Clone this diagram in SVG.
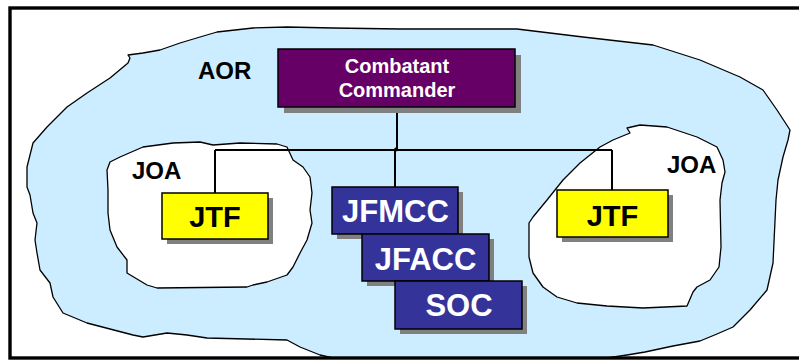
<svg xmlns="http://www.w3.org/2000/svg" width="799" height="360" viewBox="0 0 799 360">
<style>
.blob{stroke:#000;stroke-width:1.3;stroke-linejoin:round}
.box{stroke:#000;stroke-width:1.5}
.sh{fill:#808080}
.t{font-family:"Liberation Sans",Arial,sans-serif;font-weight:bold;text-anchor:middle}
.w{fill:#fff}
.k{fill:#000}
.ln{stroke:#000;stroke-width:2;fill:none}
</style>
<rect x="0" y="0" width="799" height="360" fill="#fff"/>
<g id="aor-region">
<path class="blob" fill="#CCECFF" d="M27,167 L33,143 L47,127 L67,107 L87,93 L110,78 L128,63 L130,58 L128,55 L143,53 L160,50 L180,43 L200,37 L217,32 L253,28 L287,27 L333,28 L400,29 L517,29 L583,37 L653,45 L700,60 L740,77 L763,90 L777,110 L790,130 L788,140 L783,157 L778,180 L776,200 L773,263 L767,290 L750,310 L733,327 L717,334 L700,341 L673,346 L645,352 L627,355 L607,358 L333,358 L320,355 L300,347 L287,340 L207,338 L187,335 L167,333 L143,337 L133,335 L87,323 L63,313 L53,297 L50,283 L40,270 L37,253 L35,240 L37,223 L33,213 L30,195 L27,187 Z"/>
</g>
<g id="joa-left">
<path class="blob" fill="#fff" d="M107,170 L110,162 L120,157 L143,147 L173,143 L200,142 L213,145 L240,143 L277,144 L287,147 L293,160 L303,167 L310,177 L312,193 L310,210 L312,223 L307,240 L300,253 L293,267 L287,275 L267,282 L253,285 L247,287 L157,288 L147,285 L127,273 L127,260 L117,247 L110,230 L108,213 L108,190 Z"/>
</g>
<g id="joa-right">
<path class="blob" fill="#fff" d="M563,180 L580,163 L600,147 L613,140 L630,133 L627,128 L640,125 L667,127 L697,137 L717,147 L723,160 L725,172 L722,183 L720,200 L721,247 L719,267 L710,280 L697,287 L693,292 L687,306 L643,308 L607,306 L577,303 L557,297 L543,287 L533,273 L529,257 L529,223 L533,217 L547,200 Z"/>
</g>
<g id="frame">
<rect x="10" y="8" width="800" height="350" fill="none" stroke="#000" stroke-width="3.4"/>
</g>
<g id="labels">
<text class="t k" x="198" y="79" font-size="24" text-anchor="start" style="text-anchor:start">AOR</text>
<text class="t k" x="132" y="179" font-size="24" style="text-anchor:start">JOA</text>
<text class="t k" x="667" y="173" font-size="24" style="text-anchor:start">JOA</text>
</g>
<g id="connectors">
<path class="ln" d="M397,107 V149"/>
<path class="ln" d="M215,150 H612"/>
<path class="ln" d="M215,150 V193"/>
<path class="ln" d="M612,150 V190"/>
<path class="ln" d="M395,150 V187"/>
<circle cx="396" cy="149.5" r="2" fill="#000"/>
</g>
<g id="combatant-commander">
<rect class="sh" x="284" y="55" width="237" height="58"/>
<rect class="box" x="278" y="49" width="237" height="58" fill="#660066"/>
<text class="t w" x="397" y="73" font-size="20">Combatant</text>
<text class="t w" x="397" y="97" font-size="20">Commander</text>
</g>
<g id="jtf-left">
<rect class="sh" x="167" y="198" width="106" height="46"/>
<rect class="box" x="162" y="193" width="106" height="46" fill="#FFFF00"/>
<text class="t k" x="215" y="227" font-size="29">JTF</text>
</g>
<g id="jtf-right">
<rect class="sh" x="562" y="195" width="111" height="47"/>
<rect class="box" x="557" y="190" width="111" height="47" fill="#FFFF00"/>
<text class="t k" x="612.5" y="226" font-size="29">JTF</text>
</g>
<g id="jfmcc">
<rect class="sh" x="337" y="192" width="126" height="47"/>
<rect class="box" x="332" y="187" width="126" height="47" fill="#333399"/>
<text class="t w" x="395.5" y="222" font-size="31">JFMCC</text>
</g>
<g id="jfacc">
<rect class="sh" x="367" y="239" width="127" height="47"/>
<rect class="box" x="362" y="234" width="127" height="47" fill="#333399"/>
<text class="t w" x="425.5" y="270" font-size="31">JFACC</text>
</g>
<g id="soc">
<rect class="sh" x="400" y="286" width="127" height="48"/>
<rect class="box" x="395" y="281" width="127" height="48" fill="#333399"/>
<text class="t w" x="459" y="316" font-size="31">SOC</text>
</g>
</svg>
